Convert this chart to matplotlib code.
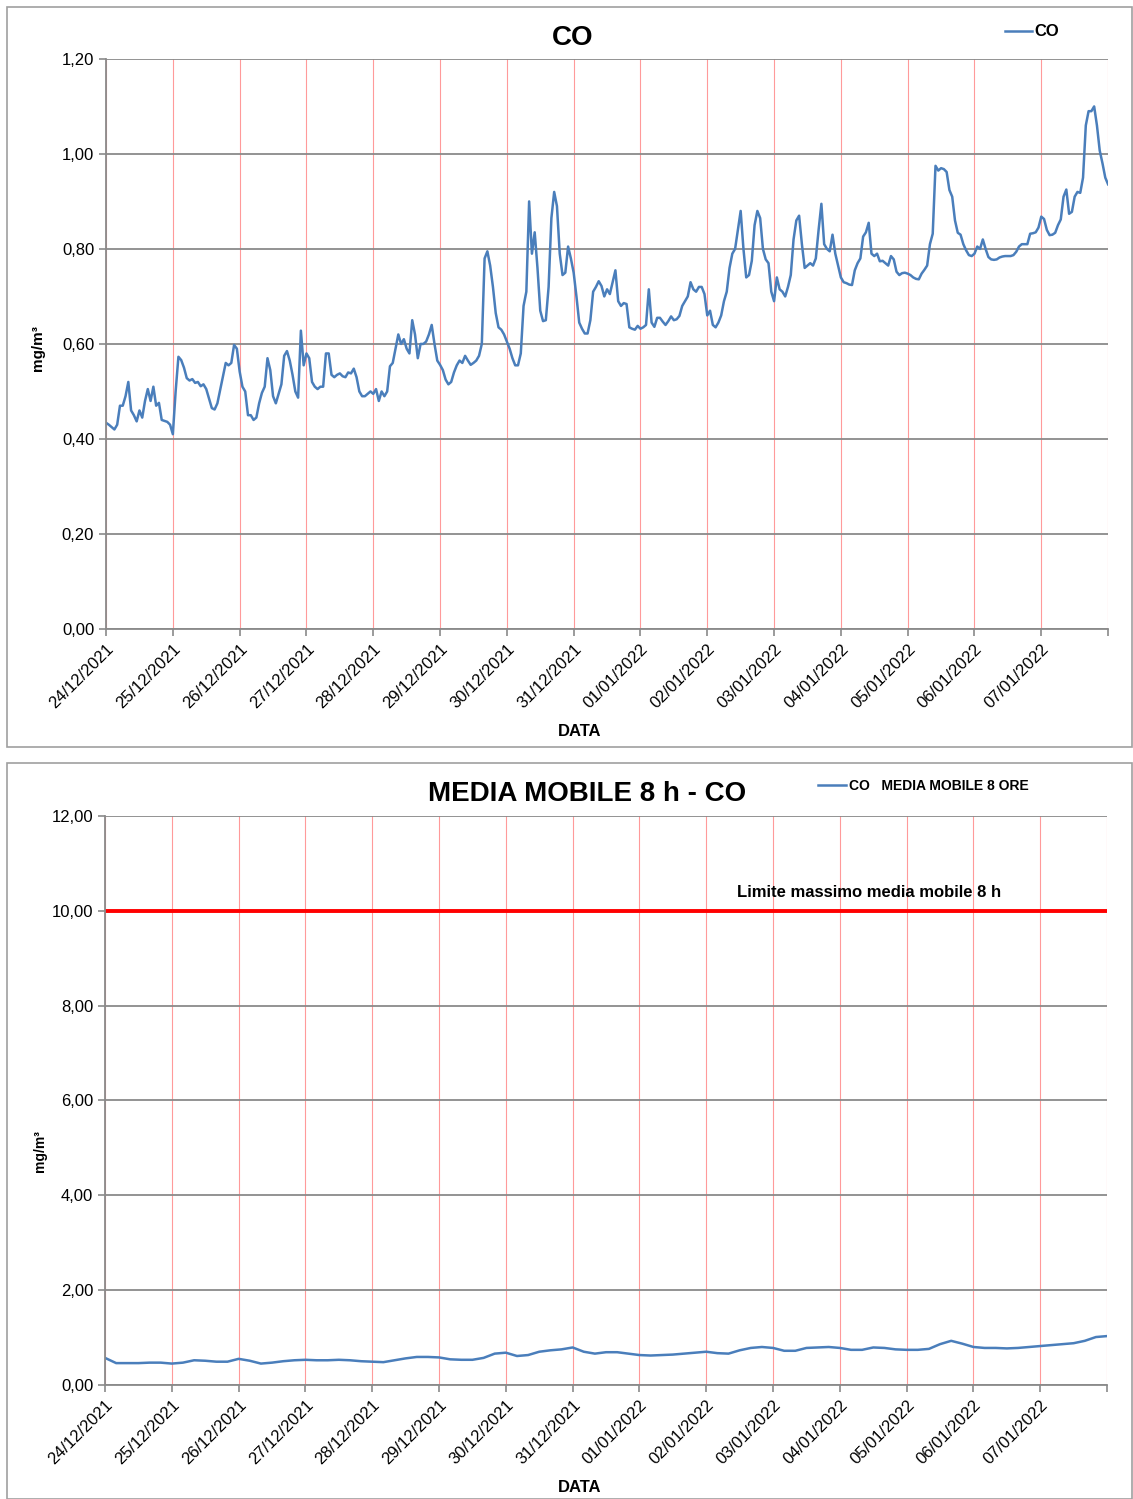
import matplotlib
matplotlib.use('Agg')
import matplotlib.pyplot as plt
from matplotlib.patches import Rectangle
import numpy as np

plt.rcParams['font.family'] = ['Liberation Sans', 'DejaVu Sans']

# dates at each day tick (00:00)
dates = ['24/12/2021', '25/12/2021', '26/12/2021', '27/12/2021', '28/12/2021',
         '29/12/2021', '30/12/2021', '31/12/2021', '01/01/2022', '02/01/2022',
         '03/01/2022', '04/01/2022', '05/01/2022', '06/01/2022', '07/01/2022']

# hourly CO concentrations (mg/m3), one row per day
co_hourly = [
    0.434, 0.43, 0.425, 0.42, 0.43, 0.47, 0.47, 0.49, 0.52, 0.46, 0.45, 0.437,
    0.46, 0.445, 0.48, 0.505, 0.48, 0.51, 0.47, 0.476, 0.44, 0.438, 0.436, 0.43,
    0.41, 0.50, 0.573, 0.566, 0.55, 0.528, 0.523, 0.526, 0.518, 0.52, 0.511, 0.515,
    0.505, 0.485, 0.465, 0.462, 0.475, 0.503, 0.53, 0.56, 0.555, 0.56, 0.598, 0.59,
    0.542, 0.51, 0.50, 0.45, 0.45, 0.44, 0.445, 0.475, 0.497, 0.51, 0.57, 0.545,
    0.49, 0.475, 0.495, 0.515, 0.575, 0.585, 0.565, 0.535, 0.50, 0.487, 0.628, 0.555,
    0.58, 0.57, 0.52, 0.51, 0.505, 0.51, 0.51, 0.58, 0.58, 0.535, 0.53, 0.535,
    0.538, 0.532, 0.53, 0.54, 0.538, 0.548, 0.53, 0.50, 0.49, 0.49, 0.495, 0.50,
    0.495, 0.505, 0.48, 0.50, 0.49, 0.50, 0.553, 0.56, 0.59, 0.62, 0.60, 0.61,
    0.59, 0.58, 0.65, 0.62, 0.57, 0.60, 0.60, 0.605, 0.62, 0.64, 0.60, 0.565,
    0.556, 0.545, 0.525, 0.515, 0.52, 0.54, 0.555, 0.565, 0.56, 0.575, 0.565, 0.556,
    0.56, 0.565, 0.575, 0.60, 0.78, 0.795, 0.765, 0.72, 0.665, 0.635, 0.63, 0.62,
    0.605, 0.59, 0.57, 0.555, 0.555, 0.58, 0.68, 0.71, 0.90, 0.79, 0.835, 0.76,
    0.67, 0.648, 0.65, 0.72, 0.865, 0.92, 0.89, 0.79, 0.745, 0.75, 0.805, 0.78,
    0.75, 0.70, 0.645, 0.632, 0.622, 0.622, 0.65, 0.71, 0.72, 0.732, 0.722, 0.70,
    0.715, 0.705, 0.73, 0.755, 0.69, 0.68, 0.686, 0.684, 0.635, 0.632, 0.63, 0.638,
    0.632, 0.635, 0.64, 0.715, 0.645, 0.636, 0.655, 0.655, 0.647, 0.64, 0.648, 0.658,
    0.65, 0.652, 0.659, 0.68, 0.69, 0.70, 0.73, 0.715, 0.71, 0.72, 0.72, 0.705,
    0.66, 0.67, 0.64, 0.635, 0.645, 0.66, 0.69, 0.71, 0.76, 0.79, 0.80, 0.84,
    0.88, 0.80, 0.74, 0.745, 0.775, 0.85, 0.88, 0.865, 0.80, 0.778, 0.77, 0.71,
    0.69, 0.74, 0.715, 0.71, 0.70, 0.72, 0.745, 0.82, 0.86, 0.87, 0.81, 0.76,
    0.765, 0.77, 0.765, 0.78, 0.84, 0.895, 0.81, 0.80, 0.795, 0.83, 0.79, 0.765,
    0.74, 0.73, 0.728, 0.725, 0.724, 0.755, 0.77, 0.78, 0.826, 0.835, 0.855, 0.79,
    0.785, 0.79, 0.774, 0.775, 0.77, 0.765, 0.785, 0.778, 0.752, 0.745, 0.749, 0.75,
    0.748, 0.745, 0.74, 0.737, 0.736, 0.748, 0.756, 0.765, 0.81, 0.832, 0.975, 0.965,
    0.97, 0.968, 0.962, 0.924, 0.91, 0.86, 0.834, 0.83, 0.81, 0.797, 0.787, 0.785,
    0.79, 0.805, 0.80, 0.82, 0.80, 0.783, 0.778, 0.777, 0.778, 0.782, 0.784, 0.785,
    0.785, 0.785, 0.787, 0.794, 0.805, 0.81, 0.81, 0.81, 0.832, 0.833, 0.835, 0.845,
    0.868, 0.863, 0.84, 0.829, 0.83, 0.834, 0.85, 0.862, 0.91, 0.925, 0.874, 0.878,
    0.91, 0.92, 0.918, 0.95, 1.06, 1.09, 1.09, 1.10, 1.06, 1.007, 0.98, 0.95,
    0.936,
]

# 8-hour moving average, sampled every 4 hours
mm8_values = [
    0.57, 0.46, 0.46, 0.46, 0.47, 0.47,
    0.45, 0.47, 0.52, 0.51, 0.49, 0.49,
    0.55, 0.51, 0.45, 0.47, 0.50, 0.52,
    0.53, 0.52, 0.52, 0.53, 0.52, 0.50,
    0.49, 0.48, 0.52, 0.56, 0.59, 0.59,
    0.58, 0.54, 0.53, 0.53, 0.57, 0.66,
    0.68, 0.61, 0.63, 0.70, 0.73, 0.75,
    0.79, 0.70, 0.66, 0.69, 0.69, 0.66,
    0.63, 0.62, 0.63, 0.64, 0.66, 0.68,
    0.70, 0.67, 0.66, 0.73, 0.78, 0.80,
    0.78, 0.72, 0.72, 0.78, 0.79, 0.80,
    0.78, 0.74, 0.74, 0.79, 0.78, 0.75,
    0.74, 0.74, 0.76, 0.86, 0.93, 0.87,
    0.80, 0.78, 0.78, 0.77, 0.78, 0.80,
    0.82, 0.84, 0.86, 0.88, 0.93, 1.01,
    1.03,
]
limit_8h = 10.0

line_color = '#4a7ebb'
grid_gray = '#8a8a8a'
grid_red = '#ff9a9a'

fig = plt.figure(figsize=(11.33, 14.99), dpi=100)

# panel frames
for y0, h in [(0.5017, 0.4936), (0.0, 0.491)]:
    fig.patches.append(Rectangle((0.006, y0), 0.993, h, transform=fig.transFigure,
                                 fill=False, edgecolor='#a0a0a0', linewidth=1.2))

hours = np.arange(len(co_hourly))
hours_mm = np.arange(len(mm8_values)) * 4
tick_pos = np.arange(len(dates) + 1) * 24
tick_lab = dates + ['']


def style_axes(ax, yticks):
    ax.set_xlim(0, 360)
    ax.set_xticks(tick_pos)
    ax.set_xticklabels(tick_lab, rotation=45, ha='right', va='top',
                       rotation_mode='anchor', fontsize=12)
    ax.set_yticks(yticks)
    ax.set_yticklabels([('%.2f' % v).replace('.', ',') for v in yticks], fontsize=12)
    ax.set_ylim(yticks[0], yticks[-1])
    for s in ['top', 'right']:
        ax.spines[s].set_visible(False)
    for s in ['left', 'bottom']:
        ax.spines[s].set_color(grid_gray)
        ax.spines[s].set_linewidth(1.3)
    ax.tick_params(direction='out', length=5, color=grid_gray, width=1.2)
    ax.tick_params(axis='x', pad=4)
    ax.yaxis.grid(True, color=grid_gray, linewidth=1.3)
    ax.xaxis.grid(True, color=grid_red, linewidth=0.8)
    ax.set_axisbelow(True)


# top chart: hourly CO
ax1 = fig.add_axes([0.0936, 0.5804, 0.8844, 0.3803])
ax1.plot(hours, co_hourly, color=line_color, linewidth=1.8, label='CO')
style_axes(ax1, np.arange(0, 1.21, 0.2))
fig.text(0.505, 0.9745, 'CO', ha='center', va='center', fontsize=20, fontweight='bold')
fig.text(0.512, 0.5123, 'DATA', ha='center', va='center', fontsize=12, fontweight='bold')
fig.text(0.0335, 0.7678, 'mg/m³', ha='center', va='center', rotation=90,
         fontsize=11, fontweight='bold')
ax1.legend(loc='center left', bbox_to_anchor=(0.874, 0.9787),
           bbox_transform=fig.transFigure, frameon=False, handlelength=1.6,
           handletextpad=0.15, prop={'weight': 'bold', 'size': 12})

# bottom chart: 8h moving average
ax2 = fig.add_axes([0.0927, 0.0761, 0.8844, 0.3796])
ax2.plot(hours_mm, mm8_values, color=line_color, linewidth=1.8,
         label='CO   MEDIA MOBILE 8 ORE')
ax2.axhline(limit_8h, color='#ff0000', linewidth=2.8)
style_axes(ax2, np.arange(0, 12.1, 2))
ax2.text(0.7625, 10.38, 'Limite massimo media mobile 8 h', transform=ax2.get_yaxis_transform(),
         ha='center', va='center', fontsize=12, fontweight='bold')
fig.text(0.518, 0.4705, 'MEDIA MOBILE 8 h - CO', ha='center', va='center',
         fontsize=20, fontweight='bold')
fig.text(0.512, 0.008, 'DATA', ha='center', va='center', fontsize=12, fontweight='bold')
fig.text(0.035, 0.232, 'mg/m³', ha='center', va='center', rotation=90,
         fontsize=10, fontweight='bold')
ax2.legend(loc='center left', bbox_to_anchor=(0.711, 0.4757),
           bbox_transform=fig.transFigure, frameon=False, handlelength=2.0,
           handletextpad=0.2, prop={'weight': 'bold', 'size': 10})

fig.savefig('out.png', dpi=100)
